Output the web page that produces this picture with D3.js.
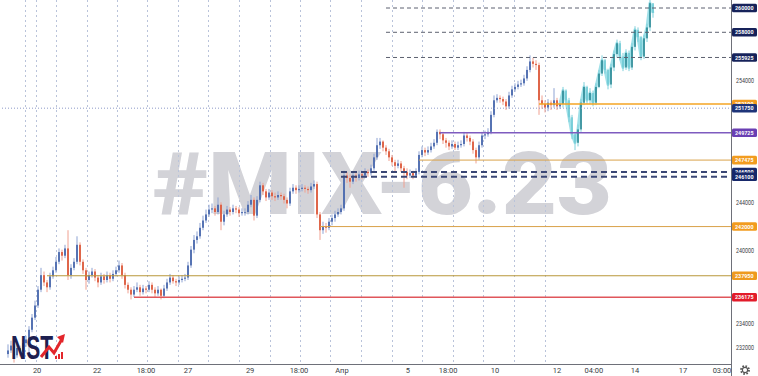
<!DOCTYPE html>
<html>
<head>
<meta charset="utf-8">
<script src="https://cdn.jsdelivr.net/npm/d3@7"></script>
<style>
  body { margin: 0; background: #fff; }
  svg { display: block; }
</style>
</head>
<body>
<div id="chart"></div>
<script>
// Candles (thousands). Open of each bar = previous close.
const firstOpen = 231.5;
const closes = [
  231.8, 232.2, 231.4, 232.0, 231.7, 232.4, 232.7, 233.5, 234.5, 235.5,
  236.8, 238.0, 237.4, 237.0, 237.9, 238.4, 239.1, 239.9, 239.6, 240.2,
  238.0, 238.6, 239.1, 240.5, 239.1, 238.4, 237.6, 238.0, 238.3, 237.8,
  237.4, 237.9, 237.6, 238.0, 237.7, 238.1, 238.4, 238.8, 238.0, 237.2,
  236.8, 236.4, 236.8, 237.0, 236.6, 236.9, 236.8, 237.2, 236.8, 236.5,
  236.8, 236.3, 236.9, 237.4, 237.8, 237.5, 237.4, 237.6, 237.7, 237.8,
  238.8, 240.1, 240.9, 241.2, 241.9, 242.5, 243.0, 243.4, 243.5, 243.2,
  243.8, 242.4, 243.0, 243.4, 243.2, 243.5, 243.4, 243.1, 243.2, 243.2,
  243.8, 244.2, 242.9, 244.2, 245.4, 244.9, 244.4, 244.8, 244.5, 244.4,
  244.6, 244.5, 244.2, 243.9, 244.9, 245.2, 245.0, 245.1, 245.2, 245.1,
  245.0, 245.3, 245.5, 243.0, 241.7, 242.0, 241.9, 242.4, 242.7, 243.0,
  243.2, 243.5, 246.2, 246.0, 245.7, 246.2, 246.0, 246.3, 246.2, 246.5,
  246.4, 246.8, 247.7, 248.7, 249.0, 248.5, 248.2, 247.7, 247.3, 247.0,
  247.2, 246.8, 246.5, 246.2, 246.4, 246.2, 246.5, 247.9, 248.3, 248.1,
  248.3, 248.6, 248.9, 249.8, 249.6, 249.1, 248.9, 248.6, 248.8, 248.5,
  248.7, 248.8, 249.5, 249.3, 249.0, 248.3, 247.7, 248.7, 249.5, 249.6,
  249.8, 251.2, 252.4, 252.6, 252.5, 252.3, 251.9, 252.8, 253.3, 253.5,
  253.7, 253.8, 254.2, 254.9, 255.6, 255.4, 255.3, 252.4, 252.1, 251.8,
  252.2, 252.0, 252.4, 251.9, 252.1
];
const highs = [
  232.3, 232.6, 232.3, 232.3, 232.2, 232.7, 233.0, 233.8, 234.8, 235.9,
  237.1, 238.6, 238.3, 237.6, 238.2, 238.7, 239.5, 240.2, 240.1, 240.5,
  241.7, 238.9, 239.4, 241.2, 240.7, 239.3, 238.6, 238.3, 238.6, 238.5,
  238.0, 238.2, 238.1, 238.3, 238.2, 238.4, 238.7, 239.2, 239.0, 238.2,
  237.4, 237.0, 237.1, 237.4, 237.2, 237.2, 237.1, 237.5, 237.4, 237.0,
  237.1, 236.9, 237.2, 237.7, 238.1, 238.0, 237.7, 237.9, 238.0, 238.1,
  239.1, 240.4, 241.3, 241.6, 242.3, 242.9, 243.4, 243.8, 243.9, 243.7,
  244.4, 244.0, 243.3, 243.7, 243.6, 243.8, 243.7, 243.6, 243.5, 243.5,
  244.1, 244.6, 244.4, 244.5, 245.7, 245.6, 245.1, 245.1, 245.0, 244.8,
  244.9, 244.8, 244.7, 244.4, 245.2, 245.5, 245.4, 245.4, 245.5, 245.4,
  245.3, 245.6, 245.8, 245.7, 243.2, 242.4, 242.3, 242.7, 243.0, 243.3,
  243.5, 243.8, 246.6, 246.5, 246.3, 246.5, 246.4, 246.6, 246.5, 246.8,
  246.7, 247.1, 248.0, 249.3, 249.3, 249.1, 248.7, 248.4, 247.9, 247.5,
  247.5, 247.4, 247.0, 246.8, 246.7, 246.6, 246.8, 248.2, 248.6, 248.5,
  248.6, 248.9, 249.2, 250.0, 250.0, 249.8, 249.3, 249.1, 249.1, 249.0,
  249.0, 249.1, 249.8, 249.7, 249.5, 249.2, 248.5, 249.0, 249.8, 249.9,
  250.1, 251.5, 252.8, 252.9, 252.8, 252.7, 252.5, 253.1, 253.6, 253.8,
  254.0, 254.1, 254.5, 255.2, 256.1, 255.9, 255.7, 255.5, 252.8, 252.4,
  252.5, 252.4, 253.4, 252.6, 252.4
];
const lows = [
  231.2, 231.6, 230.8, 231.2, 231.3, 231.5, 232.1, 231.4, 233.3, 234.3,
  235.3, 236.6, 237.1, 236.6, 236.8, 237.7, 238.2, 238.9, 239.2, 239.4,
  237.6, 237.7, 238.4, 238.9, 238.8, 238.1, 236.8, 237.3, 237.8, 237.5,
  237.0, 237.2, 237.3, 237.4, 237.4, 237.5, 237.9, 238.2, 237.7, 236.9,
  236.5, 236.0, 236.2, 236.6, 236.3, 236.4, 236.5, 236.6, 236.5, 236.2,
  236.3, 236.0, 236.1, 236.7, 237.2, 237.3, 237.1, 237.2, 237.4, 237.5,
  237.6, 238.6, 239.8, 240.6, 241.0, 241.7, 242.3, 242.8, 243.1, 242.9,
  243.0, 241.7, 242.1, 242.8, 242.9, 243.0, 243.1, 242.8, 242.9, 242.9,
  243.0, 243.6, 242.5, 242.7, 244.0, 244.6, 244.1, 244.2, 244.2, 244.1,
  244.2, 244.2, 243.9, 243.5, 243.7, 244.7, 244.7, 244.8, 244.9, 244.8,
  244.7, 244.8, 245.1, 242.7, 240.9, 241.4, 241.5, 241.7, 242.1, 242.4,
  242.8, 243.0, 243.3, 245.6, 245.2, 245.5, 245.7, 245.8, 245.9, 246.0,
  246.1, 246.2, 246.6, 247.5, 248.4, 248.2, 247.9, 247.4, 247.0, 246.5,
  246.8, 246.5, 245.2, 245.9, 246.0, 245.9, 246.0, 246.3, 247.7, 247.8,
  247.9, 248.1, 248.4, 248.7, 249.2, 248.8, 248.5, 248.3, 248.4, 248.3,
  248.3, 248.5, 248.6, 249.0, 248.7, 248.0, 247.2, 247.5, 248.5, 249.2,
  249.4, 249.6, 251.0, 252.2, 252.2, 252.0, 251.6, 251.7, 252.6, 253.1,
  253.3, 253.5, 253.6, 254.0, 254.7, 255.1, 254.9, 251.2, 251.7, 251.4,
  251.5, 251.6, 251.8, 251.6, 251.7
];

// Projected path (bars pattern) after the last real bar
const fcCloses = [
  253.2, 252.4, 251.0, 249.6, 248.9, 250.0, 252.2, 253.5, 252.4, 253.0,
  252.2, 253.5, 254.6, 255.7, 254.9, 253.7, 255.1, 256.2, 257.1, 256.0,
  255.1, 256.3, 255.1, 256.8, 258.2, 257.6, 256.0, 257.5, 258.4, 260.4,
  259.6
];
const fcHighs = [
  253.5, 253.3, 252.6, 251.2, 249.8, 250.4, 252.5, 253.9, 253.6, 253.4,
  253.2, 253.8, 254.9, 256.1, 255.8, 255.0, 255.4, 256.5, 257.4, 257.3,
  256.3, 256.6, 256.5, 257.1, 258.5, 258.4, 257.7, 257.8, 258.7, 260.8,
  260.3
];
const fcLows = [
  251.8, 252.0, 250.6, 249.2, 248.3, 248.6, 249.8, 252.0, 252.1, 252.1,
  251.9, 252.0, 253.4, 254.4, 254.6, 253.3, 253.4, 254.8, 255.9, 255.7,
  254.8, 254.9, 254.8, 254.9, 256.5, 257.2, 255.7, 255.8, 257.2, 258.1,
  259.2
];

// Horizontal levels: price and bar index where the drawing starts
const levelPrices = [260000, 258000, 255925, 252100, 251750, 249725, 247475, 246500, 246100, 242000, 237950, 236175];
const levelStart  = [126, 126, 126, 177, -3, 144, 137, 111, 111, 104, 13, 42];
const levelKinds  = ['grey', 'grey', 'grey', 'orange', 'last', 'purple', 'gold', 'navy', 'navy', 'gold', 'olive', 'red'];

// Price axis ticks
const priceTicks = d3.range(232000, 262001, 2000);

// Time axis
const timeTickIdx = [9.7, 29.7, 46, 60, 80.7, 97, 111.3, 133.3, 146.7, 162.3, 183, 195.3, 209, 225, 238];
const timeTickText = ['20', '22', '18:00', '27', '29', '18:00', 'Апр', '5', '18:00', '10', '12', '04:00', '14', '17', '03:00'];
const gridIdx = [5.7, 9.3, 16, 26.3, 36.3, 46.3, 56.7, 66.7, 77, 87.3, 97.3, 107.3, 117.7, 128, 138, 148.3, 158.3, 168.7, 179];

const W = 758, H = 376;
const plotRight = 731, plotBottom = 364;

const kindStyle = {
  grey:   { stroke: '#5d6170', width: 1,   dash: '4,3', box: '#16225a' },
  orange: { stroke: '#f5a524', width: 1.6, dash: null,  box: '#f29c1f' },
  last:   { stroke: '#8d99c8', width: 1,   dash: '1,2', box: '#1e3479' },
  purple: { stroke: '#7e5bbf', width: 1.6, dash: null,  box: '#6a3fb3' },
  gold:   { stroke: '#d9a24a', width: 1,   dash: null,  box: '#f29c1f' },
  navy:   { stroke: '#3b4775', width: 2,   dash: '6,4', box: '#17286a' },
  olive:  { stroke: '#b8973a', width: 1,   dash: null,  box: '#ee9a1e' },
  red:    { stroke: '#e0565b', width: 1.6, dash: null,  box: '#e21b2a' }
};

const svg = d3.select('#chart')
    .append('svg')
    .attr('width', W)
    .attr('height', H)
    .style('font-family', 'Roboto, "Open Sans", sans-serif');

svg.append('rect').attr('width', W).attr('height', H).attr('fill', '#fff');

const x = d3.scaleLinear().domain([0, 241]).range([8, plotRight]);
const y = d3.scaleLinear().domain([232, 260]).range([348, 8]);

const plot = svg.append('g');
plot.append('clipPath').attr('id', 'clip')
    .append('rect').attr('width', plotRight).attr('height', plotBottom);
const g = plot.append('g').attr('clip-path', 'url(#clip)');

// Watermark
g.append('text')
    .attr('x', 153)
    .attr('y', 214)
    .attr('textLength', 459)
    .attr('lengthAdjust', 'spacingAndGlyphs')
    .style('font-family', 'Roboto, "DejaVu Sans", sans-serif')
    .style('font-weight', 900)
    .style('font-size', '88px')
    .attr('fill', '#d3d3d8')
    .text('#MIX-6.23');

// Vertical grid
g.append('g')
    .selectAll('line')
    .data(gridIdx)
    .enter()
    .append('line')
    .attr('x1', d => Math.round(x(d)) + 0.5)
    .attr('x2', d => Math.round(x(d)) + 0.5)
    .attr('y1', 0)
    .attr('y2', plotBottom)
    .attr('stroke', '#b9c3da')
    .attr('stroke-dasharray', '2,3');

// Candles
const bars = closes.map((c, i) => ({
    i: i,
    o: i === 0 ? firstOpen : closes[i - 1],
    c: c,
    h: highs[i],
    l: lows[i]
}));

const candle = g.append('g')
    .selectAll('g')
    .data(bars)
    .enter()
    .append('g');

candle.append('line')
    .attr('x1', d => x(d.i))
    .attr('x2', d => x(d.i))
    .attr('y1', d => y(d.h))
    .attr('y2', d => y(d.l))
    .attr('stroke', d => d.c >= d.o ? '#8ea3d3' : '#f0a090')
    .attr('stroke-width', 1);

candle.append('rect')
    .attr('x', d => x(d.i) - 0.9)
    .attr('width', 1.8)
    .attr('y', d => y(Math.max(d.o, d.c)))
    .attr('height', d => Math.max(0.8, Math.abs(y(d.o) - y(d.c))))
    .attr('fill', d => d.c >= d.o ? '#4a69ad' : '#dc5a3c');

// Projection
const fcStart = closes.length;
const fcBars = fcCloses.map((c, k) => ({
    i: fcStart + k,
    o: k === 0 ? closes[closes.length - 1] : fcCloses[k - 1],
    c: c,
    h: fcHighs[k],
    l: fcLows[k]
}));

g.append('path')
    .datum([{ i: fcStart - 1, c: closes[closes.length - 1] }].concat(fcBars))
    .attr('fill', 'none')
    .attr('stroke', '#9fe0e8')
    .attr('stroke-width', 3)
    .attr('stroke-linejoin', 'round')
    .attr('d', d3.line().x(d => x(d.i)).y(d => y(d.c)));

const fc = g.append('g')
    .selectAll('g')
    .data(fcBars)
    .enter()
    .append('g');

fc.append('line')
    .attr('x1', d => x(d.i))
    .attr('x2', d => x(d.i))
    .attr('y1', d => y(d.h))
    .attr('y2', d => y(d.l))
    .attr('stroke', '#7fd0db')
    .attr('stroke-width', 1);

fc.append('rect')
    .attr('x', d => x(d.i) - 0.8)
    .attr('width', 1.6)
    .attr('y', d => y(Math.max(d.o, d.c)))
    .attr('height', d => Math.max(0.8, Math.abs(y(d.o) - y(d.c))))
    .attr('fill', d => d.c >= d.o ? '#2a8793' : '#6fcad5');

// Level lines
const levels = levelPrices.map((p, k) => ({ p: p, start: levelStart[k], kind: levelKinds[k] }));

g.append('g')
    .selectAll('line')
    .data(levels)
    .enter()
    .append('line')
    .attr('x1', d => x(d.start))
    .attr('x2', plotRight)
    .attr('y1', d => y(d.p / 1000))
    .attr('y2', d => y(d.p / 1000))
    .attr('stroke', d => kindStyle[d.kind].stroke)
    .attr('stroke-width', d => kindStyle[d.kind].width)
    .attr('stroke-dasharray', d => kindStyle[d.kind].dash);

// Axes frame
svg.append('line')
    .attr('x1', plotRight + 0.5).attr('x2', plotRight + 0.5)
    .attr('y1', 0).attr('y2', H)
    .attr('stroke', '#6e7079');
svg.append('line')
    .attr('x1', 0).attr('x2', plotRight)
    .attr('y1', plotBottom + 0.5).attr('y2', plotBottom + 0.5)
    .attr('stroke', '#6e7079');

// Price tick labels (the ones not covered by a level label)
const freeTicks = priceTicks.filter(t =>
    levelPrices.every(p => Math.abs(y(p / 1000) - y(t / 1000)) > 6.5));

svg.append('g')
    .selectAll('text')
    .data(freeTicks)
    .enter()
    .append('text')
    .attr('x', 736)
    .attr('y', d => y(d / 1000) + 2.4)
    .attr('textLength', 18)
    .attr('lengthAdjust', 'spacingAndGlyphs')
    .style('font-size', '7px')
    .attr('fill', '#3a3d45')
    .text(d => d);

// Level labels on price scale
const lab = svg.append('g')
    .selectAll('g')
    .data(levels)
    .enter()
    .append('g')
    .attr('transform', d => `translate(732,${y(d.p / 1000)})`);

lab.append('rect')
    .attr('x', 0)
    .attr('y', -4.3)
    .attr('width', 25)
    .attr('height', 8.6)
    .attr('rx', 1.5)
    .attr('fill', d => kindStyle[d.kind].box);

lab.append('text')
    .attr('x', 3)
    .attr('y', 2.1)
    .attr('textLength', 18.5)
    .attr('lengthAdjust', 'spacingAndGlyphs')
    .style('font-size', '6px')
    .style('font-weight', 'bold')
    .attr('fill', '#fff')
    .text(d => d.p);

// Time tick labels
svg.append('g')
    .selectAll('text')
    .data(timeTickIdx)
    .enter()
    .append('text')
    .attr('x', d => x(d))
    .attr('y', 373)
    .attr('text-anchor', 'middle')
    .style('font-size', '7.5px')
    .attr('fill', '#3a3d45')
    .text((d, k) => timeTickText[k]);

// Settings gear
const gear = svg.append('g').attr('transform', 'translate(745,370)');
gear.append('circle').attr('r', 4).attr('fill', 'none')
    .attr('stroke', '#555').attr('stroke-width', 1.8).attr('stroke-dasharray', '1.6,1.54');
gear.append('circle').attr('r', 2.6).attr('fill', '#fff')
    .attr('stroke', '#555').attr('stroke-width', 1.1);

// NST logo
const logo = svg.append('g').attr('transform', 'translate(11,359)');
logo.append('text')
    .attr('textLength', 42)
    .attr('lengthAdjust', 'spacingAndGlyphs')
    .style('font-family', '"Liberation Sans", Arial, sans-serif')
    .style('font-weight', 'bold')
    .style('font-size', '34px')
    .attr('fill', '#1d2050')
    .text('NST');
logo.append('path')
    .attr('d', 'M30,-2 L38,-12 L43,-6 L51,-20')
    .attr('fill', 'none')
    .attr('stroke', '#e3262b')
    .attr('stroke-width', 3);
logo.append('path')
    .attr('d', 'M46,-22 L54,-25 L52,-16 Z')
    .attr('fill', '#e3262b');
logo.selectAll('rect.bar')
    .data([3, 5, 7])
    .enter()
    .append('rect')
    .attr('x', (d, k) => 44 + k * 3)
    .attr('y', d => -d)
    .attr('width', 2)
    .attr('height', d => d)
    .attr('fill', '#e3262b');
</script>
</body>
</html>
